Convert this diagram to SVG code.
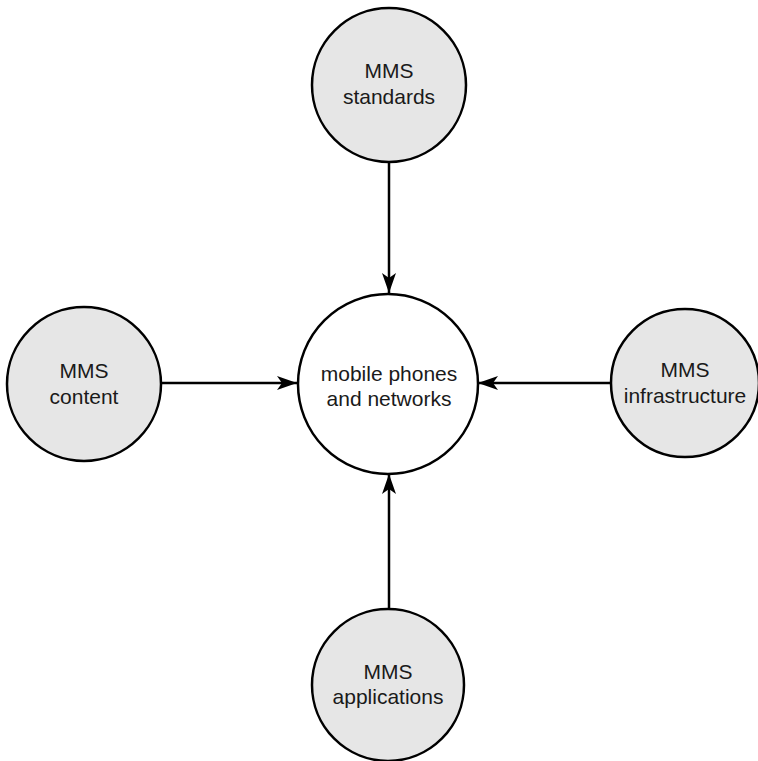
<svg xmlns="http://www.w3.org/2000/svg" width="758" height="761" viewBox="0 0 758 761">
  <style>
    .outer { fill: #e6e6e6; stroke: #000; stroke-width: 2.5; }
    .hub { fill: #fff; stroke: #000; stroke-width: 2.5; }
    .label { font-family: "Liberation Sans", Arial, sans-serif; font-size: 21px; fill: #1a1a1a; text-anchor: middle; }
    .edge { stroke: #000; stroke-width: 2.5; fill: none; marker-end: url(#arrow); }
  </style>
  <defs>
    <marker id="arrow" markerUnits="userSpaceOnUse" markerWidth="24" markerHeight="18" viewBox="-22 -9 24 18" refX="0" refY="0" orient="auto">
      <path d="M0,0 L-20,-7 L-15,0 L-20,7 Z" fill="#000"/>
    </marker>
  </defs>

  <!-- connectors: every outer topic points into the hub -->
  <g id="connectors">
    <line class="edge" x1="389" y1="162" x2="389" y2="293"/>
    <line class="edge" x1="161" y1="383" x2="297" y2="383"/>
    <line class="edge" x1="611" y1="383" x2="478" y2="383"/>
    <line class="edge" x1="389" y1="609" x2="389" y2="474"/>
  </g>

  <g id="hub">
    <circle class="hub" cx="388" cy="384" r="90"/>
    <text class="label" x="389" y="381">mobile phones</text>
    <text class="label" x="389" y="406">and networks</text>
  </g>

  <g id="standards">
    <circle class="outer" cx="389" cy="85" r="77"/>
    <text class="label" x="389" y="78">MMS</text>
    <text class="label" x="389" y="104">standards</text>
  </g>

  <g id="content">
    <circle class="outer" cx="84" cy="384" r="77"/>
    <text class="label" x="84" y="378">MMS</text>
    <text class="label" x="84" y="404">content</text>
  </g>

  <g id="infrastructure">
    <circle class="outer" cx="685" cy="383" r="74"/>
    <text class="label" x="685" y="377">MMS</text>
    <text class="label" x="685" y="403">infrastructure</text>
  </g>

  <g id="applications">
    <circle class="outer" cx="388" cy="685" r="76"/>
    <text class="label" x="388" y="679">MMS</text>
    <text class="label" x="388" y="704">applications</text>
  </g>
</svg>
